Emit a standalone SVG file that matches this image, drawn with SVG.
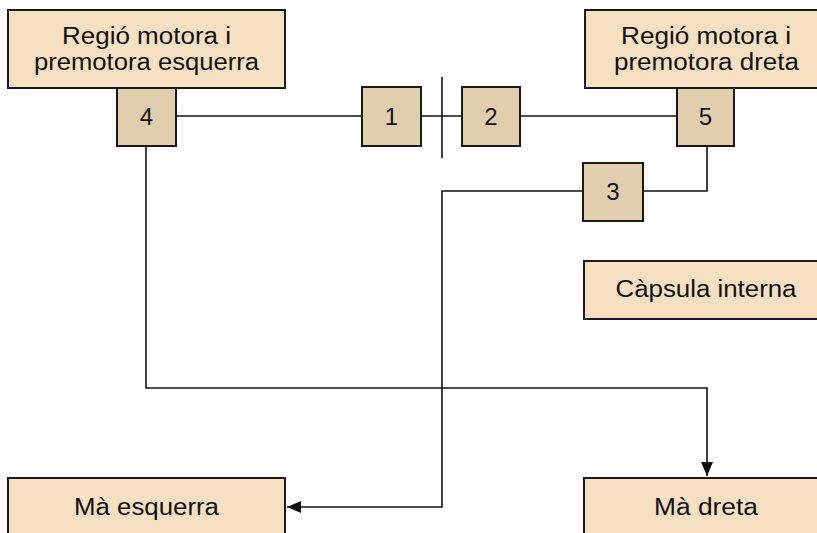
<svg xmlns="http://www.w3.org/2000/svg" width="817" height="533" viewBox="0 0 817 533">
<style>
.big{fill:#F5E1C2;stroke:#1a1a1a;stroke-width:2}
.small{fill:#E0CEAC;stroke:#1a1a1a;stroke-width:2}
.t{font-family:"Liberation Sans",Arial,sans-serif;font-size:23.5px;fill:#111;text-anchor:middle}
.d{font-size:24px}
.ln{fill:none;stroke:#111;stroke-width:1.6}
</style>
<defs>
<marker id="ah" viewBox="0 0 14 12" refX="14" refY="6" markerWidth="14" markerHeight="12" markerUnits="userSpaceOnUse" orient="auto">
<path d="M0,0 L14,6 L0,12 Z" fill="#111"/>
</marker>
</defs>
<rect width="817" height="533" fill="#fff"/>
<g id="connectors">
<line class="ln" x1="176" y1="116" x2="362" y2="116"/>
<line class="ln" x1="421" y1="116" x2="462" y2="116"/>
<line class="ln" x1="520" y1="116" x2="677" y2="116"/>
<line class="ln" x1="442" y1="77" x2="442" y2="158" stroke-width="2"/>
<polyline class="ln" points="707,146 707,191 643,191"/>
<polyline class="ln" points="583,191 442,191 442,507 287,507" marker-end="url(#ah)"/>
<polyline class="ln" points="146,146 146,388 707,388 707,476" marker-end="url(#ah)"/>
</g>
<g id="left-region">
<rect class="big" x="8" y="10" width="277" height="78"/>
<text class="t" x="146.5" y="44" textLength="169" lengthAdjust="spacingAndGlyphs">Regió motora i</text>
<text class="t" x="146.5" y="70" textLength="225" lengthAdjust="spacingAndGlyphs">premotora esquerra</text>
</g>
<g id="right-region">
<rect class="big" x="585" y="10" width="244" height="78"/>
<text class="t" x="706" y="44" textLength="170" lengthAdjust="spacingAndGlyphs">Regió motora i</text>
<text class="t" x="706.5" y="70" textLength="185" lengthAdjust="spacingAndGlyphs">premotora dreta</text>
</g>
<g id="n4">
<rect class="small" x="117" y="88" width="59" height="58"/>
<text class="t d" x="146.5" y="125">4</text>
</g>
<g id="n1">
<rect class="small" x="362" y="87" width="59" height="59"/>
<text class="t d" x="391.5" y="125">1</text>
</g>
<g id="n2">
<rect class="small" x="462" y="87" width="58" height="59"/>
<text class="t d" x="491" y="125">2</text>
</g>
<g id="n5">
<rect class="small" x="677" y="88" width="57" height="58"/>
<text class="t d" x="705.5" y="125">5</text>
</g>
<g id="n3">
<rect class="small" x="583" y="163" width="60" height="58"/>
<text class="t d" x="613" y="200">3</text>
</g>
<g id="capsula">
<rect class="big" x="584" y="261" width="245" height="58"/>
<text class="t" x="706" y="297" textLength="181" lengthAdjust="spacingAndGlyphs">Càpsula interna</text>
</g>
<g id="ma-esquerra">
<rect class="big" x="8" y="478" width="277" height="70"/>
<text class="t" x="146.5" y="515" textLength="145" lengthAdjust="spacingAndGlyphs">Mà esquerra</text>
</g>
<g id="ma-dreta">
<rect class="big" x="584" y="478" width="245" height="70"/>
<text class="t" x="706" y="515" textLength="104" lengthAdjust="spacingAndGlyphs">Mà dreta</text>
</g>
</svg>
